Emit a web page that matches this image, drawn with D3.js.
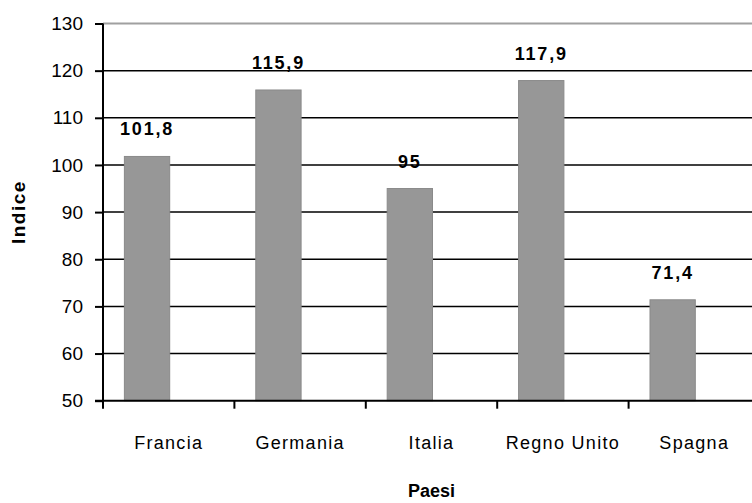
<!DOCTYPE html>
<html>
<head>
<meta charset="utf-8">
<script src="https://cdn.jsdelivr.net/npm/d3@7"></script>
<style>
  html, body { margin: 0; padding: 0; background: #fff; }
  svg { display: block; }
  text { font-family: "Liberation Sans", Arial, sans-serif; fill: #000; }
</style>
</head>
<body>
<script>
// Indice per paese
const paesi = ["Francia", "Germania", "Italia", "Regno Unito", "Spagna"];
const indice = [101.8, 115.9, 95, 117.9, 71.4];
const etichette = ["101,8", "115,9", "95", "117,9", "71,4"];
const yTicks = [50, 60, 70, 80, 90, 100, 110, 120, 130];

const W = 752, H = 503;
const plot = { left: 103, right: 760, top: 23.5, bottom: 400.7 };

const svg = d3.select("body").append("svg")
  .attr("width", W).attr("height", H);

const x = d3.scaleBand().domain(paesi).range([plot.left, plot.right]).padding(0);
// two slots per category, the bar sits in the first one
const xs = d3.scaleBand().domain(["v", "_"]).range([0, x.bandwidth()])
  .paddingInner(0).paddingOuter(0.45);
const y = d3.scaleLinear().domain([50, 130]).range([plot.bottom, plot.top]);

const rows = paesi.map((p, i) => ({ p, v: indice[i], l: etichette[i] }));

// gridlines
svg.append("g").selectAll("line")
  .data(yTicks.filter(d => d > 50))
  .join("line")
  .attr("x1", plot.left).attr("x2", plot.right)
  .attr("y1", d => y(d)).attr("y2", d => y(d))
  .attr("stroke", d => d === 130 ? "#a0a0a0" : "#000")
  .attr("stroke-width", d => d === 130 ? 2 : 1.5);

// bars
svg.append("g").selectAll("rect")
  .data(rows)
  .join("rect")
  .attr("x", d => x(d.p) + xs("v") + 1)
  .attr("y", d => y(d.v))
  .attr("width", xs.bandwidth())
  .attr("height", d => y(50) - y(d.v))
  .attr("fill", "#979797")
  .attr("stroke", "#8a8a8a")
  .attr("stroke-width", 1);

// value labels
svg.append("g").selectAll("text")
  .data(rows)
  .join("text")
  .attr("x", d => x(d.p) + xs("v") + 1 + xs.bandwidth() / 2)
  .attr("y", d => y(d.v) - 21)
  .attr("text-anchor", "middle")
  .attr("font-size", 18)
  .attr("font-weight", "bold")
  .attr("letter-spacing", 1.8)
  .text(d => d.l);

// y axis
const yAxis = svg.append("g")
  .attr("transform", `translate(${plot.left},0)`)
  .call(d3.axisLeft(y).tickValues(yTicks).tickSize(8).tickPadding(12));
yAxis.select(".domain").attr("stroke", "#000").attr("stroke-width", 2)
  .attr("d", `M0,${plot.top}V${plot.bottom}`);
yAxis.selectAll(".tick line").attr("stroke", "#000").attr("stroke-width", 2);
yAxis.selectAll(".tick text").attr("font-size", 19)
  .attr("font-family", "Liberation Sans, Arial, sans-serif").attr("fill", "#000");

// x axis: ticks at category boundaries
const xAxis = svg.append("g")
  .attr("transform", `translate(0,${plot.bottom})`);
xAxis.append("line")
  .attr("x1", plot.left - 8).attr("x2", plot.right)
  .attr("stroke", "#000").attr("stroke-width", 2);
xAxis.selectAll("line.tk")
  .data(paesi)
  .join("line").attr("class", "tk")
  .attr("x1", d => x(d)).attr("x2", d => x(d))
  .attr("y1", 0).attr("y2", 8)
  .attr("stroke", "#000").attr("stroke-width", 2);
xAxis.selectAll("text")
  .data(paesi)
  .join("text")
  .attr("x", d => x(d) + x.bandwidth() / 2)
  .attr("y", 48)
  .attr("text-anchor", "middle")
  .attr("font-size", 18)
  .attr("letter-spacing", 1.3)
  .text(d => d);

// axis titles
svg.append("text")
  .attr("x", (plot.left + plot.right) / 2)
  .attr("y", 497)
  .attr("text-anchor", "middle")
  .attr("font-size", 18)
  .attr("font-weight", "bold")
  .text("Paesi");

svg.append("text")
  .attr("transform", `translate(25,${(plot.top + plot.bottom) / 2}) rotate(-90)`)
  .attr("text-anchor", "middle")
  .attr("font-size", 19)
  .attr("font-weight", "bold")
  .attr("letter-spacing", 1.5)
  .text("Indice");
</script>
</body>
</html>
